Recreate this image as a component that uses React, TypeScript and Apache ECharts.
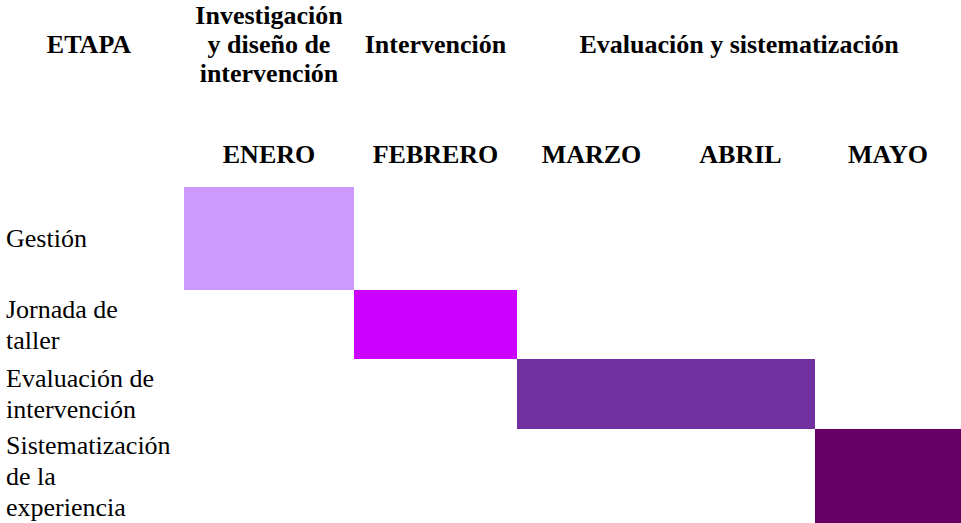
import React, { useEffect, useRef } from "react";
import * as echarts from "echarts";

// ---- data ----
const months = ["ENERO", "FEBRERO", "MARZO", "ABRIL", "MAYO"];
const stages = ["Investigación\ny diseño de\nintervención", "Intervención", "Evaluación y sistematización"];
const stageStartMonth = [0, 1, 2];
const stageEndMonth = [1, 2, 5];
const tasks = ["Gestión", "Jornada de\ntaller", "Evaluación de\nintervención", "Sistematización\nde la\nexperiencia"];
const taskStartMonth = [0, 1, 2, 4];
const taskEndMonth = [1, 2, 4, 5];
const headerLabel = "ETAPA";

// ---- layout (table column widths / row heights, in px-like units) ----
const colWidths = [170, 163, 149, 149, 146];
const rowHeights = [103, 69, 70, 94];
const taskColors = ["#cc99ff", "#cc00ff", "#7030a0", "#660066"];

const cum = (a: number[]) => a.reduce((acc: number[], v) => { acc.push(acc[acc.length - 1] + v); return acc; }, [0]);
const colEdges = cum(colWidths);
const rowEdges = cum(rowHeights);
const xMax = colEdges[colEdges.length - 1];
const yMax = rowEdges[rowEdges.length - 1];
const monthCenters = months.map((_, i) => (colEdges[i] + colEdges[i + 1]) / 2);
const stageCenters = stages.map((_, i) => (colEdges[stageStartMonth[i]] + colEdges[stageEndMonth[i]]) / 2);
const rowCenters = tasks.map((_, i) => (rowEdges[i] + rowEdges[i + 1]) / 2);

const nearest = (arr: number[], v: number) => {
  let best = 0;
  arr.forEach((c, i) => { if (Math.abs(c - v) < Math.abs(arr[best] - v)) best = i; });
  return best;
};

const FONT = "'Liberation Serif', 'Times New Roman', Times, serif";

export default function App() {
  const ref = useRef<HTMLDivElement>(null);
  useEffect(() => {
    if (!ref.current) return;
    const chart = echarts.init(ref.current, null, { renderer: "svg" });
    const data = tasks.map((_, i) => [colEdges[taskStartMonth[i]], colEdges[taskEndMonth[i]], rowEdges[i], rowEdges[i + 1], i]);
    chart.setOption({
      animation: false,
      backgroundColor: "#ffffff",
      textStyle: { fontFamily: FONT },
      grid: { left: 184, top: 187, width: xMax, height: yMax, containLabel: false },
      xAxis: [
        {
          type: "value", position: "top", min: 0, max: xMax,
          axisLine: { show: false }, axisTick: { show: false }, splitLine: { show: false },
          axisLabel: {
            customValues: monthCenters, margin: 33, verticalAlign: "middle",
            fontFamily: FONT, fontSize: 26, fontWeight: "bold", color: "#000",
            formatter: (v: number) => months[nearest(monthCenters, v)],
          },
        },
        {
          type: "value", position: "top", min: 0, max: xMax,
          axisLine: { show: false }, axisTick: { show: false }, splitLine: { show: false },
          axisLabel: {
            customValues: stageCenters, margin: 143, verticalAlign: "middle", lineHeight: 29,
            fontFamily: FONT, fontSize: 26, fontWeight: "bold", color: "#000",
            formatter: (v: number) => stages[nearest(stageCenters, v)],
          },
        },
      ],
      yAxis: {
        type: "value", inverse: true, min: 0, max: yMax,
        axisLine: { show: false }, axisTick: { show: false }, splitLine: { show: false },
        axisLabel: {
          customValues: rowCenters, margin: 178, align: "left", verticalAlign: "middle", lineHeight: 31,
          fontFamily: FONT, fontSize: 26, color: "#000",
          formatter: (v: number) => tasks[nearest(rowCenters, v)],
        },
      },
      graphic: [
        {
          type: "text",
          style: { x: 89, y: 44, text: headerLabel, align: "center", verticalAlign: "middle", fontFamily: FONT, fontSize: 26, fontWeight: "bold", fill: "#000" },
        },
      ],
      series: [
        {
          type: "custom",
          xAxisIndex: 0,
          yAxisIndex: 0,
          encode: { x: [0, 1], y: [2, 3] },
          data,
          renderItem: (params: any, api: any) => {
            const p0 = api.coord([api.value(0), api.value(2)]);
            const p1 = api.coord([api.value(1), api.value(3)]);
            const idx = api.value(4);
            return {
              type: "rect",
              shape: { x: p0[0], y: p0[1], width: p1[0] - p0[0], height: p1[1] - p0[1] },
              style: { fill: taskColors[idx] },
            };
          },
        },
      ],
    });
    return () => chart.dispose();
  }, []);
  return <div ref={ref} style={{ position: "fixed", left: 0, top: 0, width: 961, height: 523, background: "#fff" }} />;
}
